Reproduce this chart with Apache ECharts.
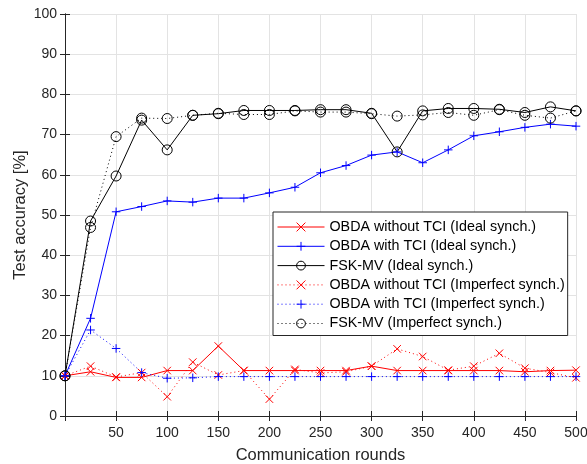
<!DOCTYPE html>
<html lang="en">
<head>
    <meta charset="UTF-8">
    <title>Test accuracy</title>
    <style>
        body { margin: 0; background: #fff; }
    </style>
</head>
<body>
    <div id="main" style="width:587px;height:464px;"></div>

    <script src="https://cdn.jsdelivr.net/npm/echarts@6/dist/echarts.min.js"></script>
    <script>
    var rounds = [0, 25, 50, 75, 100, 125, 150, 175, 200, 225, 250, 275, 300, 325, 350, 375, 400, 425, 450, 475, 500];

    var obdaNoTciIdeal = [10, 11.0, 9.6, 9.6, 11.3, 11.3, 17.4, 11.3, 11.3, 11.3, 11.3, 11.3, 12.4, 11.3, 11.3, 11.3, 11.3, 11.3, 11.0, 11.3, 11.4];
    var obdaTciIdeal = [10, 24.3, 50.8, 52.1, 53.5, 53.2, 54.2, 54.2, 55.5, 56.9, 60.5, 62.3, 64.9, 65.7, 63.0, 66.2, 69.7, 70.7, 71.8, 72.6, 72.1];
    var fskIdeal = [10, 48.5, 59.7, 73.6, 66.2, 74.8, 75.2, 76.0, 76.0, 76.0, 76.2, 76.2, 75.3, 65.7, 75.9, 76.5, 76.5, 76.3, 75.5, 76.9, 75.9];
    var obdaNoTciImp = [10, 12.4, 9.7, 10.8, 4.8, 13.4, 10.2, 11.3, 4.2, 11.6, 10.7, 11.0, 12.4, 16.7, 14.8, 11.4, 12.4, 15.6, 11.9, 10.8, 9.5];
    var obdaTciImp = [10, 21.4, 16.8, 10.8, 9.4, 9.5, 9.8, 9.8, 9.8, 9.8, 9.8, 9.8, 9.8, 9.8, 9.8, 9.8, 9.8, 9.8, 9.8, 9.8, 9.8];
    var fskImp = [10, 46.9, 69.5, 74.1, 74.0, 74.8, 75.3, 75.0, 75.0, 75.9, 75.6, 75.6, 75.2, 74.6, 74.9, 75.5, 74.8, 76.2, 74.8, 74.1, 75.9];

    // markers drawn as strokes only
    var crossPath = 'path://M0,0L10,10M10,0L0,10';
    var plusPath = 'path://M5,0L5,10M0,5L10,5';
    var ringPath = 'path://M10,5A5,5 0 1,1 0,5A5,5 0 1,1 10,5Z';
    var font = 'Liberation Sans';

    function pairs(ys) {
        return rounds.map(function (x, i) { return [x, ys[i]]; });
    }

    function line(name, ys, color, symbol, size, dotted) {
        return {
            name: name,
            type: 'line',
            data: pairs(ys),
            symbol: symbol,
            symbolSize: size,
            showAllSymbol: true,
            animation: false,
            lineStyle: { color: color, width: 1, type: dotted ? [1, 3] : 'solid' },
            itemStyle: {
                color: 'none',
                borderColor: color,
                borderWidth: 1
            },
            emphasis: { disabled: true }
        };
    }

    var axisLine = { show: true, lineStyle: { color: '#262626', width: 1 } };
    var tick = { show: true, inside: true, length: 5, lineStyle: { color: '#262626' } };

    var option = {
        backgroundColor: '#fff',
        textStyle: { fontFamily: font },
        grid: { left: 65, right: 11, top: 14, bottom: 48, containLabel: false, outerBoundsMode: 'none' },
        legend: {
            orient: 'vertical',
            left: 273,
            top: 212,
            itemWidth: 47,
            itemHeight: 11,
            itemGap: 5.3,
            padding: [8, 3, 5, 4],
            backgroundColor: '#fff',
            borderColor: '#262626',
            borderWidth: 1,
            lineStyle: { width: 1 },
            itemStyle: { borderWidth: 1 },
            textStyle: { fontFamily: font, fontSize: 14.3, color: '#000' },
            data: [
                'OBDA without TCI (Ideal synch.)',
                'OBDA with TCI (Ideal synch.)',
                'FSK-MV (Ideal synch.)',
                'OBDA without TCI (Imperfect synch.)',
                'OBDA with TCI (Imperfect synch.)',
                'FSK-MV (Imperfect synch.)'
            ]
        },
        xAxis: [{
            type: 'value',
            min: 0,
            max: 500,
            interval: 50,
            name: 'Communication rounds',
            nameLocation: 'middle',
            nameGap: 31,
            nameMoveOverlap: false,
            nameTextStyle: { fontFamily: font, fontSize: 16.5, color: '#262626' },
            axisLine: axisLine,
            axisTick: tick,
            axisLabel: {
                fontFamily: font, fontSize: 14, color: '#262626', margin: 10,
                formatter: function (v) { return v === 0 ? '' : v; }
            },
            splitLine: { show: true, lineStyle: { color: '#e3e3e3', width: 1 } }
        }, {
            type: 'value',
            position: 'top',
            min: 0,
            max: 500,
            interval: 50,
            axisLine: axisLine,
            axisTick: tick,
            axisLabel: { show: false },
            splitLine: { show: false }
        }],
        yAxis: [{
            type: 'value',
            min: 0,
            max: 100,
            interval: 10,
            name: 'Test accuracy [%]',
            nameLocation: 'middle',
            nameGap: 36,
            nameMoveOverlap: false,
            nameTextStyle: { fontFamily: font, fontSize: 16.5, color: '#262626' },
            axisLine: axisLine,
            axisTick: tick,
            axisLabel: { fontFamily: font, fontSize: 14, color: '#262626', margin: 8 },
            splitLine: { show: true, lineStyle: { color: '#e3e3e3', width: 1 } }
        }, {
            type: 'value',
            position: 'right',
            min: 0,
            max: 100,
            interval: 10,
            axisLine: axisLine,
            axisTick: tick,
            axisLabel: { show: false },
            splitLine: { show: false }
        }],
        series: [
            line('OBDA without TCI (Ideal synch.)', obdaNoTciIdeal, '#ff0000', crossPath, 7.5, false),
            line('OBDA with TCI (Ideal synch.)', obdaTciIdeal, '#0000ff', plusPath, 8.5, false),
            line('FSK-MV (Ideal synch.)', fskIdeal, '#000000', ringPath, 10, false),
            line('OBDA without TCI (Imperfect synch.)', obdaNoTciImp, '#ff0000', crossPath, 7.5, true),
            line('OBDA with TCI (Imperfect synch.)', obdaTciImp, '#0000ff', plusPath, 8.5, true),
            line('FSK-MV (Imperfect synch.)', fskImp, '#000000', ringPath, 10, true)
        ]
    };

    var chart = echarts.init(document.getElementById('main'));
    chart.setOption(option);
    </script>
</body>
</html>
